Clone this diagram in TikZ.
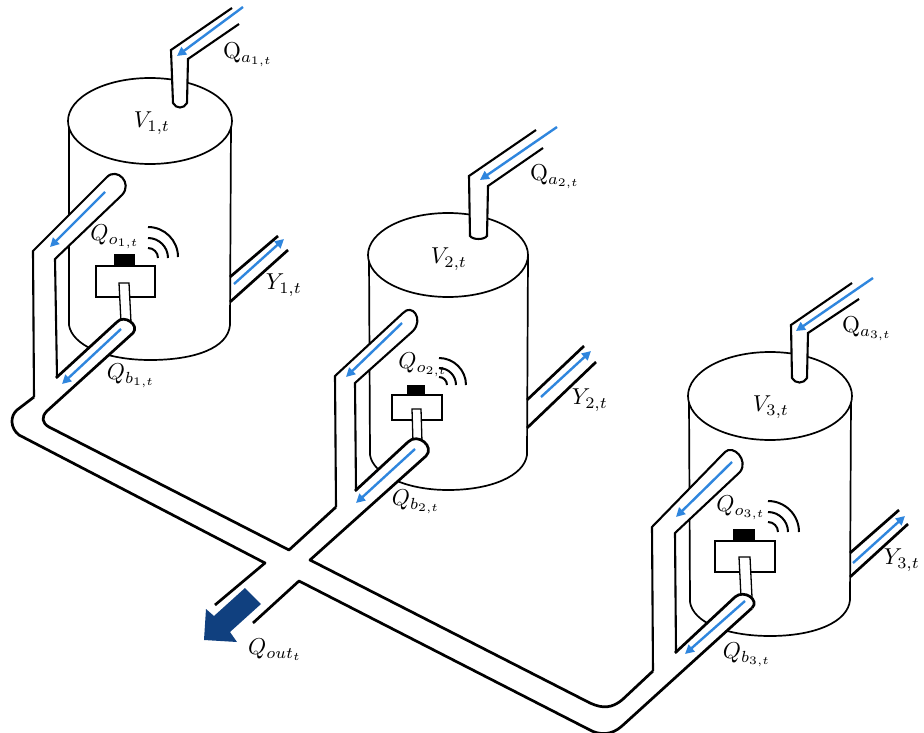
\documentclass[tikz,border=0pt]{standalone}
\usetikzlibrary{arrows.meta}
\definecolor{flowblue}{HTML}{2F86DE}
\definecolor{outblue}{HTML}{10407F}
\tikzset{
  x=1pt,y=-1pt,
  tankline/.style={line width=1.7pt,line join=round},
  pipeline/.style={line width=2.1pt,line join=miter,line cap=butt},
  heavypipe/.style={line width=2.7pt,line join=round,line cap=butt},
  flow/.style={draw=flowblue,line width=2.4pt,-{Triangle[length=9pt,width=9pt]}},
  sensorbox/.style={line width=1.7pt,fill=white},
  stem/.style={line width=1.3pt,fill=white},
  wave/.style={line width=2pt,line cap=butt},
  lab/.style={inner sep=0pt,scale=2.3}
}
\begin{document}
\begin{tikzpicture}
\useasboundingbox (0,0) rectangle (924,733);
\clip (0,0) rectangle (924,733);
\fill[white] (0,0) rectangle (924,733);
% ---------- outlets behind tanks
\draw[heavypipe] (230,277) -- (278,236) (230,302) -- (288,250);
\draw[heavypipe] (527,400) -- (584,346) (527,428) -- (596,362);
\draw[heavypipe] (850,553) -- (899,510) (850,577) -- (908,524);
% ---------- tank 1
\draw[tankline] (69,124) -- (69,325) .. controls (72,345) and (105,360) .. (150,360) .. controls (195,360) and (228,348) .. (230,325) -- (231,122);
\draw[tankline,fill=white] (150,121) ellipse [x radius=82,y radius=43];
% tank 2
\draw[tankline] (369,257) -- (370,455) .. controls (373,474) and (405,490) .. (448,490) .. controls (491,490) and (524,476) .. (527,455) -- (528,256);
\draw[tankline,fill=white] (448,255) ellipse [x radius=80,y radius=42];
% tank 3
\draw[tankline] (689,400) -- (690,602) .. controls (693,622) and (725,636) .. (770,636) .. controls (815,636) and (848,622) .. (850,600) -- (851,398);
\draw[tankline,fill=white] (770,396) ellipse [x radius=82,y radius=44];
% ---------- inlets
\fill[white] (232,8) -- (239,24) -- (188,59) -- (187,103) .. controls (184,109) and (176,109) .. (173,103) -- (171,50) -- cycle;
\draw[pipeline] (232,8) -- (171,50) -- (173,103) .. controls (176,109) and (184,109) .. (187,103) -- (188,59) -- (239,24);
\fill[white] (536,130) -- (543,148) -- (488,186) -- (487,236) .. controls (484,240) and (473,240) .. (470,236) -- (469,176) -- cycle;
\draw[pipeline] (536,130) -- (469,176) -- (470,236) .. controls (473,240) and (484,240) .. (487,236) -- (488,186) -- (543,148);
\fill[white] (852,283) -- (859,299) -- (808,333) -- (807,378) .. controls (804,384) and (795,384) .. (792,378) -- (791,325) -- cycle;
\draw[pipeline] (852,283) -- (791,325) -- (792,378) .. controls (795,384) and (804,384) .. (807,378) -- (808,333) -- (859,299);
% ---------- sensors
\draw[sensorbox] (96,266) rectangle (155,297);
\fill (114,254) rectangle (135,266);
\draw[stem] (119,283) -- (129,283) -- (131,322) -- (121,322) -- cycle;
\draw[wave] (148,227) arc[start angle=-90,end angle=0,radius=30];
\draw[wave] (148,238) arc[start angle=-90,end angle=0,radius=20];
\draw[wave] (148,248) arc[start angle=-90,end angle=0,radius=10];
\draw[sensorbox] (392,395) rectangle (442,420);
\fill (407,385) rectangle (425,395);
\draw[stem] (412,409) -- (421,409) -- (422,442) -- (413,442) -- cycle;
\draw[wave] (439,358) arc[start angle=-90,end angle=0,radius=27];
\draw[wave] (439,368) arc[start angle=-90,end angle=0,radius=17];
\draw[wave] (439,377) arc[start angle=-90,end angle=0,radius=8];
\draw[sensorbox] (715,541) rectangle (775,572);
\fill (733,529) rectangle (755,541);
\draw[stem] (739,557) -- (750,557) -- (752,597) -- (741,597) -- cycle;
\draw[wave] (768,501) arc[start angle=-90,end angle=0,radius=31];
\draw[wave] (768,512) arc[start angle=-90,end angle=0,radius=20];
\draw[wave] (768,522) arc[start angle=-90,end angle=0,radius=10];
% ---------- white pipe interiors
\fill[white] (33,251) -- (107,177) .. controls (117,167) and (133,183) .. (122,195) -- (55,259) -- (57,377) -- (117,322) .. controls (124,314) and (140,325) .. (133,333) -- (47,411) -- (47,425) -- (17,435) -- (17,410) -- (34,397) -- cycle;
\fill[white] (335,376) -- (403,313) .. controls (412,303) and (424,319) .. (413,331) -- (355,383) -- (356,490) -- (408,442) .. controls (418,432) and (435,447) .. (426,456) -- (310,560) -- (289,550) -- (336,507) -- cycle;
\fill[white] (652,527) -- (725,452) .. controls (733,444) and (749,460) .. (740,472) -- (675,533) -- (676,652) -- (735,597) .. controls (744,589) and (760,600) .. (752,608) -- (653,700) -- (653,671) -- cycle;
% ---------- pipework tank 1
\draw[pipeline] (34,397) -- (33,251) -- (107,177) .. controls (117,167) and (133,183) .. (122,195) -- (55,259) -- (57,377);
\draw[heavypipe] (56,378) -- (117,322) .. controls (124,314) and (140,325) .. (133,333) -- (47,411) .. controls (41,417) and (42,423) .. (49,427) -- (289,550) -- (336,507);
\draw[heavypipe] (34,397) -- (17,410) .. controls (10,416) and (10,428) .. (19,435) -- (265,563) -- (215,605);
% pipework tank 2
\draw[pipeline] (336,507) -- (335,376) -- (403,313) .. controls (412,303) and (424,319) .. (413,331) -- (355,383) -- (356,490);
\draw[heavypipe] (355,491) -- (408,442) .. controls (418,432) and (435,447) .. (426,456) -- (310,560) -- (590,703) .. controls (603,709) and (612,708) .. (622,700) -- (653,671);
\draw[heavypipe] (253,623) -- (299,581) -- (588,729) .. controls (600,736) and (612,735) .. (622,726) -- (752,608);
% pipework tank 3
\draw[pipeline] (653,671) -- (652,527) -- (725,452) .. controls (733,444) and (749,460) .. (740,472) -- (675,533) -- (676,652);
\draw[heavypipe] (675,653) -- (735,597) .. controls (744,589) and (760,600) .. (752,608);
% ---------- blue flow arrows
\draw[flow] (243,7) -- (177,56);
\draw[flow] (557,127) -- (480,180);
\draw[flow] (873,278) -- (796,331);
\draw[flow] (105,192) -- (50,247);
\draw[flow] (121,329) -- (62,384);
\draw[flow] (402,323) -- (346,377);
\draw[flow] (415,449) -- (356,503);
\draw[flow] (732,462) -- (676,517);
\draw[flow] (745,601) -- (685,654);
\draw[flow] (234,284) -- (284,239);
\draw[flow] (541,397) -- (591,351);
\draw[flow] (853,563) -- (905,516);
% ---------- outflow arrow
\fill[outblue] (245,588) -- (261,604) -- (230,632) -- (237,642) -- (204,640) -- (206,609) -- (214,616) -- cycle;
% ---------- labels
\node[lab] (qa1) at (248,55) {$\mathrm{Q}_{a_{1,t}}$};
\node[lab] (v1) at (152,123) {$V_{1,t}$};
\node[lab] (qo1) at (115,237) {$Q_{o_{1,t}}$};
\node[lab] (y1) at (284,285) {$Y_{1,t}$};
\node[lab] (qb1) at (131,376) {$Q_{b_{1,t}}$};
\node[lab] (qa2) at (555,177) {$\mathrm{Q}_{a_{2,t}}$};
\node[lab] (v2) at (449,259) {$V_{2,t}$};
\node[lab] (qo2) at (423,365) {$Q_{o_{2,t}}$};
\node[lab] (y2) at (590,400) {$Y_{2,t}$};
\node[lab] (qb2) at (416,502) {$Q_{b_{2,t}}$};
\node[lab] (qa3) at (867,329) {$\mathrm{Q}_{a_{3,t}}$};
\node[lab] (v3) at (771,407) {$V_{3,t}$};
\node[lab] (qo3) at (741,508) {$Q_{o_{3,t}}$};
\node[lab] (y3) at (902,560) {$Y_{3,t}$};
\node[lab] (qb3) at (747,655) {$Q_{b_{3,t}}$};
\node[lab] (qout) at (275,650) {$Q_{out_t}$};
\end{tikzpicture}
\end{document}
